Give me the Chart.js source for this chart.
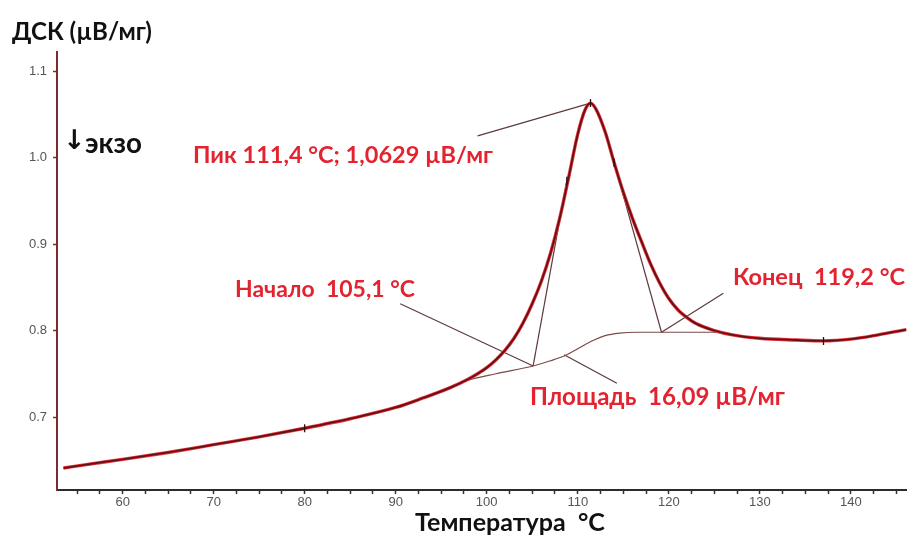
<!DOCTYPE html>
<html>
<head>
<meta charset="utf-8">
<script src="https://cdn.jsdelivr.net/npm/chart.js@4"></script>
<style>
html,body{margin:0;padding:0;background:#fff;}
canvas{display:block;}
</style>
</head>
<body>
<canvas id="c" width="912" height="537"></canvas>
<script>
// ---- data ----
const temps = [53.5, 56, 60, 65, 70, 75, 80, 85, 90, 93, 96, 98, 99, 100, 101, 102, 103, 104, 105, 106, 107, 108, 109, 110, 110.8, 111.4, 112, 113, 114, 115, 116, 117, 118, 119, 120, 121, 122, 123, 125, 127, 130, 134, 137, 140, 143, 146.1];
const dscValues = [0.641, 0.645, 0.651, 0.659, 0.668, 0.677, 0.687, 0.698, 0.711, 0.722, 0.734, 0.744, 0.750, 0.757, 0.766, 0.777, 0.791, 0.809, 0.831, 0.857, 0.889, 0.929, 0.977, 1.027, 1.055, 1.0629, 1.056, 1.030, 0.994, 0.960, 0.930, 0.903, 0.877, 0.855, 0.837, 0.824, 0.815, 0.808, 0.800, 0.795, 0.791, 0.789, 0.788, 0.790, 0.795, 0.801];
const baselineT = [88, 93, 97.8, 101, 105.1, 107, 108.8, 110, 111.8, 113, 114.6, 116.5, 119.2, 122, 126];
const baselineV = [0.705, 0.722, 0.742, 0.750, 0.759, 0.765, 0.772, 0.779, 0.789, 0.794, 0.797, 0.798, 0.798, 0.798, 0.798];
const markT = [80, 108.8, 111.4, 114, 137];
const markV = [0.687, 0.973, 1.0629, 0.994, 0.788];
const onsetTangentT = [105.1, 108.8];
const onsetTangentV = [0.759, 0.973];
const endTangentT = [119.2, 114];
const endTangentV = [0.798, 0.994];
const peakPointerT = [99.0, 111.4];
const peakPointerV = [1.025, 1.0629];
const onsetPointerT = [90.5, 105.1];
const onsetPointerV = [0.831, 0.759];
const endPointerT = [119.2, 126.0];
const endPointerV = [0.798, 0.843];
const areaPointerT = [108.5, 114.3];
const areaPointerV = [0.772, 0.739];
const yTicks = [0.7, 0.8, 0.9, 1.0, 1.1];
const xMajorTicks = [60, 70, 80, 90, 100, 110, 120, 130, 140];
const xMinorStep = 2.5;

const labels = {
  yTitle: 'ДСК (µВ/мг)',
  xTitle: 'Температура  °С',
  exo: 'экзо',
  peak: 'Пик 111,4 °С; 1,0629 µВ/мг',
  onset: 'Начало  105,1 °С',
  end: 'Конец  119,2 °С',
  area: 'Площадь  16,09 µВ/мг'
};

// ---- helpers ----
function pts(xs, ys){ return xs.map((x,i)=>({x:x, y:ys[i]})); }
function thin(xs, ys, color){
  return {data: pts(xs, ys), showLine: true, borderColor: color || '#5e3a3a', borderWidth: 1.2,
          pointRadius: 0, fill: false, tension: 0};
}

const textPlugin = {
  id: 'texts',
  afterDraw(chart){
    const ctx = chart.ctx;
    ctx.save();
    function fit(text, x, y, w, size, color, weight){
      ctx.font = (weight||'bold') + ' ' + size + 'px Lato, "Open Sans", sans-serif';
      const m = ctx.measureText(text).width;
      const s = size * w / m;
      ctx.font = (weight||'bold') + ' ' + s.toFixed(2) + 'px Lato, "Open Sans", sans-serif';
      ctx.fillStyle = color;
      ctx.textAlign = 'left';
      ctx.textBaseline = 'middle';
      ctx.fillText(text, x, y);
    }
    const red = '#e3232f';
    fit(labels.yTitle, 12, 32, 140, 19, '#111');
    fit(labels.xTitle, 415, 523, 190, 19, '#111');
    fit(labels.peak, 193, 155, 300, 18, red);
    fit(labels.onset, 235, 290, 180, 18, red);
    fit(labels.end, 733, 277, 172, 18, red);
    fit(labels.area, 530, 397, 255, 18, red);
    // exo arrow
    ctx.font = 'bold 27px "DejaVu Sans", sans-serif';
    ctx.fillStyle = '#111';
    ctx.textAlign = 'left';
    ctx.textBaseline = 'middle';
    ctx.fillText('↓', 63, 142);
    fit(labels.exo, 85, 144, 57, 18, '#111');
    ctx.restore();
  }
};

new Chart(document.getElementById('c'), {
  type: 'scatter',
  data: {
    datasets: [
      {data: pts(markT, markV), showLine: false, pointStyle: 'line', rotation: 90, radius: 4,
       pointRadius: 4, borderColor: '#2a1010', borderWidth: 1.3},
      {data: pts(temps, dscValues), showLine: true, borderColor: '#651014', borderWidth: 1.8,
       pointRadius: 0, cubicInterpolationMode: 'monotone'},
      {data: pts(temps, dscValues), showLine: true, borderColor: '#e8333c', borderWidth: 3.4,
       pointRadius: 0, cubicInterpolationMode: 'monotone'},
      Object.assign(thin(baselineT, baselineV, '#7a4a4a'), {cubicInterpolationMode: 'monotone'}),
      thin(onsetTangentT, onsetTangentV),
      thin(endTangentT, endTangentV),
      thin(peakPointerT, peakPointerV),
      thin(onsetPointerT, onsetPointerV),
      thin(endPointerT, endPointerV),
      thin(areaPointerT, areaPointerV)
    ]
  },
  options: {
    responsive: false,
    animation: false,
    devicePixelRatio: 1,
    layout: {padding: {top: 52, right: 0, left: 0, bottom: 0}},
    plugins: {legend: {display: false}, tooltip: {enabled: false}},
    scales: {
      x: {
        type: 'linear', min: 52.79, max: 146.14,
        afterBuildTicks(scale){
          const t = [];
          for (let v = 55; v <= 146; v += xMinorStep) t.push({value: v});
          scale.ticks = t;
        },
        afterFit(scale){ scale.height = 47; },
        ticks: {
          autoSkip: false, maxRotation: 0, padding: 1,
          color: '#555', font: {family: 'Liberation Sans, Arial', size: 13},
          callback: (v) => xMajorTicks.includes(v) ? String(v) : ''
        },
        grid: {display: true, drawOnChartArea: false, drawTicks: true, tickLength: 4, tickColor: '#333', tickWidth: 1.5},
        border: {display: true, color: '#2c2c2c', width: 2}
      },
      y: {
        type: 'linear', min: 0.6156, max: 1.122,
        afterBuildTicks(scale){ scale.ticks = yTicks.map(v=>({value: v})); },
        afterFit(scale){ scale.width = 57; },
        ticks: {
          autoSkip: false, padding: 6,
          color: '#555', font: {family: 'Liberation Sans, Arial', size: 13},
          callback: (v) => v.toFixed(1)
        },
        grid: {display: true, drawOnChartArea: false, drawTicks: true, tickLength: 4, tickColor: '#7b2d2d', tickWidth: 1.5},
        border: {display: true, color: '#7b2d2d', width: 2}
      }
    }
  },
  plugins: [textPlugin]
});
</script>
</body>
</html>
